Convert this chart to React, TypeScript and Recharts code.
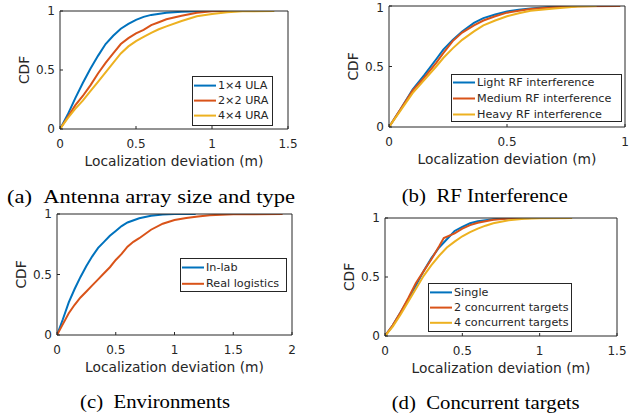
import React from 'react';
import { LineChart, Line, XAxis, YAxis, Legend, Label } from 'recharts';

const BLUE = '#0072BD';
const ORANGE = '#D95319';
const YELLOW = '#EDB120';
const AXIS = '#262626';
const SANS = '"DejaVu Sans", sans-serif';
const SERIF = '"Liberation Serif", serif';

// ---------- (a) Antenna array size and type ----------
const A_TICKS = [0, 0.5, 1, 1.5];
const A_ULA_X = [0, 0.05, 0.1, 0.15, 0.2, 0.25, 0.3, 0.35, 0.4, 0.45, 0.5, 0.55, 0.6, 0.7, 0.8, 0.9, 0.96];
const A_ULA_Y = [0, 0.12, 0.26, 0.39, 0.51, 0.62, 0.72, 0.79, 0.85, 0.89, 0.925, 0.95, 0.967, 0.985, 0.994, 0.998, 1];
const A_URA2_X = [0, 0.05, 0.1, 0.15, 0.2, 0.25, 0.3, 0.35, 0.4, 0.45, 0.5, 0.55, 0.6, 0.65, 0.7, 0.8, 0.9, 1.0, 1.1, 1.3];
const A_URA2_Y = [0, 0.1, 0.2, 0.28, 0.37, 0.47, 0.56, 0.64, 0.72, 0.77, 0.81, 0.84, 0.88, 0.905, 0.93, 0.96, 0.985, 0.997, 1, 1];
const A_URA4_X = [0, 0.05, 0.1, 0.15, 0.2, 0.25, 0.3, 0.35, 0.4, 0.45, 0.5, 0.55, 0.6, 0.65, 0.7, 0.8, 0.9, 1.0, 1.1, 1.2, 1.41];
const A_URA4_Y = [0, 0.09, 0.17, 0.24, 0.32, 0.4, 0.48, 0.56, 0.64, 0.7, 0.745, 0.78, 0.815, 0.845, 0.87, 0.915, 0.955, 0.975, 0.99, 0.998, 1];

// ---------- (b) RF Interference ----------
const B_TICKS = [0, 0.5, 1];
const B_LIGHT_X = [0, 0.05, 0.1, 0.15, 0.2, 0.23, 0.27, 0.31, 0.36, 0.4, 0.45, 0.5, 0.55, 0.6, 0.7, 0.78];
const B_LIGHT_Y = [0, 0.15, 0.31, 0.43, 0.56, 0.64, 0.72, 0.79, 0.86, 0.9, 0.93, 0.955, 0.97, 0.98, 0.995, 1];
const B_MED_X = [0, 0.05, 0.1, 0.15, 0.2, 0.23, 0.27, 0.31, 0.36, 0.4, 0.45, 0.5, 0.55, 0.6, 0.7, 0.8, 0.98];
const B_MED_Y = [0, 0.15, 0.3, 0.41, 0.53, 0.61, 0.71, 0.78, 0.84, 0.88, 0.915, 0.945, 0.96, 0.975, 0.99, 0.998, 1];
const B_HEAVY_X = [0, 0.05, 0.1, 0.15, 0.2, 0.23, 0.27, 0.31, 0.36, 0.4, 0.45, 0.5, 0.55, 0.6, 0.7, 0.8, 0.88];
const B_HEAVY_Y = [0, 0.14, 0.28, 0.39, 0.5, 0.57, 0.65, 0.72, 0.79, 0.84, 0.88, 0.915, 0.94, 0.96, 0.98, 0.995, 1];

// ---------- (c) Environments ----------
const C_TICKS = [0, 0.5, 1, 1.5, 2];
const C_LAB_X = [0, 0.05, 0.1, 0.15, 0.2, 0.25, 0.3, 0.35, 0.4, 0.45, 0.5, 0.55, 0.6, 0.7, 0.8, 0.9, 1.0, 1.18];
const C_LAB_Y = [0, 0.13, 0.27, 0.38, 0.48, 0.57, 0.65, 0.72, 0.77, 0.82, 0.86, 0.9, 0.93, 0.965, 0.985, 0.995, 0.999, 1];
const C_REAL_X = [0, 0.05, 0.1, 0.15, 0.2, 0.25, 0.3, 0.35, 0.4, 0.45, 0.5, 0.55, 0.6, 0.65, 0.7, 0.8, 0.9, 1.0, 1.1, 1.2, 1.3, 1.5, 1.92];
const C_REAL_Y = [0, 0.09, 0.18, 0.25, 0.31, 0.36, 0.41, 0.46, 0.51, 0.56, 0.62, 0.67, 0.73, 0.77, 0.8, 0.87, 0.92, 0.95, 0.967, 0.98, 0.99, 0.998, 1];

// ---------- (d) Concurrent targets ----------
const D_TICKS = [0, 0.5, 1, 1.5];
const D_SINGLE_X = [0, 0.05, 0.1, 0.15, 0.2, 0.25, 0.3, 0.35, 0.4, 0.45, 0.5, 0.55, 0.6, 0.7, 0.8, 0.95];
const D_SINGLE_Y = [0, 0.09, 0.2, 0.31, 0.43, 0.55, 0.66, 0.75, 0.82, 0.89, 0.925, 0.955, 0.972, 0.99, 0.997, 1];
const D_TWO_X = [0, 0.05, 0.1, 0.15, 0.2, 0.25, 0.3, 0.35, 0.38, 0.45, 0.5, 0.55, 0.6, 0.7, 0.8, 0.95];
const D_TWO_Y = [0, 0.09, 0.2, 0.32, 0.45, 0.55, 0.65, 0.76, 0.83, 0.87, 0.91, 0.94, 0.96, 0.985, 0.995, 1];
const D_FOUR_X = [0, 0.05, 0.1, 0.15, 0.2, 0.25, 0.3, 0.35, 0.4, 0.45, 0.5, 0.55, 0.6, 0.65, 0.7, 0.8, 0.9, 1.0, 1.21];
const D_FOUR_Y = [0, 0.08, 0.18, 0.29, 0.4, 0.51, 0.6, 0.68, 0.75, 0.8, 0.845, 0.88, 0.91, 0.935, 0.955, 0.98, 0.993, 0.998, 1];

const Y_TICKS = [0, 0.5, 1];

type Series = { name: string; color: string; x: number[]; y: number[] };
type Box = { l: number; t: number; r: number; b: number };
type LegendBox = { x: number; y: number; w: number; h: number; row0: number; gap: number };

const toData = (xs: number[], ys: number[]) => xs.map((x, i) => ({ x, y: ys[i] }));

type PanelProps = {
  left: number;
  top: number;
  width: number;
  height: number;
  plot: Box;
  xMax: number;
  xTicks: number[];
  series: Series[];
  legend: LegendBox;
};

function Panel(p: PanelProps) {
  const { left, top, width, height, plot, xMax, xTicks, series, legend } = p;
  const pl = plot.l - left;
  const pr = plot.r - left;
  const pt = plot.t - top;
  const pb = plot.b - top;
  const margin = { top: pt - 1, left: pl - 40, right: width - pr - 1, bottom: height - pb - 30 };
  const tickStyle = { fill: AXIS, fontSize: 12, fontFamily: SANS };
  return (
    <div style={{ position: 'absolute', left, top, width, height }}>
      <LineChart width={width} height={height} margin={margin}>
        <XAxis
          type="number"
          dataKey="x"
          domain={[0, xMax]}
          ticks={xTicks}
          allowDataOverflow
          height={30}
          tickSize={-3}
          tickMargin={13.6}
          stroke={AXIS}
          tick={tickStyle}
        >
          <Label
            value="Localization deviation (m)"
            content={() => (
              <text x={(pl + pr) / 2} y={pb + 36.5} textAnchor="middle" fontFamily={SANS} fontSize={13.8} fill={AXIS}>
                Localization deviation (m)
              </text>
            )}
          />
        </XAxis>
        <XAxis
          xAxisId="top"
          orientation="top"
          type="number"
          domain={[0, xMax]}
          ticks={xTicks}
          allowDataOverflow
          height={1}
          tickSize={-3}
          stroke={AXIS}
          tick={false}
        />
        <YAxis
          type="number"
          domain={[0, 1]}
          ticks={Y_TICKS}
          allowDataOverflow
          width={40}
          tickSize={-3}
          tickMargin={8}
          stroke={AXIS}
          tick={tickStyle}
        >
          <Label
            value="CDF"
            content={() => (
              <text
                transform={`translate(${pl - 31}, ${(pt + pb) / 2}) rotate(-90)`}
                textAnchor="middle"
                fontFamily={SANS}
                fontSize={13.8}
                fill={AXIS}
              >
                CDF
              </text>
            )}
          />
        </YAxis>
        <YAxis
          yAxisId="right"
          orientation="right"
          type="number"
          domain={[0, 1]}
          ticks={Y_TICKS}
          allowDataOverflow
          width={1}
          tickSize={-3}
          stroke={AXIS}
          tick={false}
        />
        {series.map((s) => (
          <Line
            key={s.name}
            name={s.name}
            data={toData(s.x, s.y)}
            dataKey="y"
            type="linear"
            stroke={s.color}
            strokeWidth={2}
            dot={false}
            activeDot={false}
            isAnimationActive={false}
          />
        ))}
        <Legend
          layout="horizontal"
          verticalAlign="middle"
          align="center"
          wrapperStyle={{
            position: 'absolute',
            left: legend.x - left,
            top: legend.y - top,
            width: legend.w,
            height: legend.h,
            margin: 0,
            padding: 0,
          }}
          content={() => (
            <svg width={legend.w} height={legend.h} style={{ display: 'block' }}>
              <rect x={0.5} y={0.5} width={legend.w - 1} height={legend.h - 1} fill="#fff" stroke={AXIS} strokeWidth={1} />
              {series.map((s, i) => {
                const yy = legend.row0 + i * legend.gap;
                return (
                  <g key={s.name}>
                    <line x1={2} x2={24} y1={yy} y2={yy} stroke={s.color} strokeWidth={2} />
                    <text x={26} y={yy} dominantBaseline="central" fontFamily={SANS} fontSize={11.2} fill={AXIS}>
                      {s.name}
                    </text>
                  </g>
                );
              })}
            </svg>
          )}
        />
      </LineChart>
    </div>
  );
}

const CAPTIONS = [
  { text: '(a)\u00A0\u00A0Antenna array size and type', x: 7, y: 202.5, w: 288 },
  { text: '(b)\u00A0\u00A0RF Interference', x: 401.7, y: 202, w: 166 },
  { text: '(c)\u00A0\u00A0Environments', x: 80, y: 408, w: 150 },
  { text: '(d)\u00A0\u00A0Concurrent targets', x: 391.7, y: 409, w: 188 },
];

export default function App() {
  return (
    <div style={{ position: 'absolute', left: 0, top: 0, width: 639, height: 416, background: '#fff', overflow: 'hidden' }}>
      <Panel
        left={0}
        top={0}
        width={320}
        height={185}
        plot={{ l: 60, t: 11, r: 288, b: 129 }}
        xMax={1.5}
        xTicks={A_TICKS}
        series={[
          { name: '1×4 ULA', color: BLUE, x: A_ULA_X, y: A_ULA_Y },
          { name: '2×2 URA', color: ORANGE, x: A_URA2_X, y: A_URA2_Y },
          { name: '4×4 URA', color: YELLOW, x: A_URA4_X, y: A_URA4_Y },
        ]}
        legend={{ x: 192, y: 76, w: 81, h: 50, row0: 9.6, gap: 15 }}
      />
      <Panel
        left={320}
        top={0}
        width={319}
        height={185}
        plot={{ l: 389, t: 6, r: 625, b: 127 }}
        xMax={1}
        xTicks={B_TICKS}
        series={[
          { name: 'Light RF interference', color: BLUE, x: B_LIGHT_X, y: B_LIGHT_Y },
          { name: 'Medium RF interference', color: ORANGE, x: B_MED_X, y: B_MED_Y },
          { name: 'Heavy RF interference', color: YELLOW, x: B_HEAVY_X, y: B_HEAVY_Y },
        ]}
        legend={{ x: 451, y: 74, w: 171, h: 48, row0: 8.5, gap: 16 }}
      />
      <Panel
        left={0}
        top={205}
        width={320}
        height={185}
        plot={{ l: 57, t: 214, r: 292, b: 335 }}
        xMax={2}
        xTicks={C_TICKS}
        series={[
          { name: 'In-lab', color: BLUE, x: C_LAB_X, y: C_LAB_Y },
          { name: 'Real logistics', color: ORANGE, x: C_REAL_X, y: C_REAL_Y },
        ]}
        legend={{ x: 180, y: 258, w: 107, h: 34, row0: 9.5, gap: 16.3 }}
      />
      <Panel
        left={320}
        top={205}
        width={319}
        height={185}
        plot={{ l: 385, t: 218, r: 617, b: 336 }}
        xMax={1.5}
        xTicks={D_TICKS}
        series={[
          { name: 'Single', color: BLUE, x: D_SINGLE_X, y: D_SINGLE_Y },
          { name: '2 concurrent targets', color: ORANGE, x: D_TWO_X, y: D_TWO_Y },
          { name: '4 concurrent targets', color: YELLOW, x: D_FOUR_X, y: D_FOUR_Y },
        ]}
        legend={{ x: 428, y: 283, w: 144, h: 49, row0: 9.4, gap: 15.2 }}
      />
      <svg width={639} height={416} style={{ position: 'absolute', left: 0, top: 0, pointerEvents: 'none' }}>
        {CAPTIONS.map((c) => (
          <text
            key={c.text}
            x={c.x}
            y={c.y}
            textLength={c.w}
            lengthAdjust="spacingAndGlyphs"
            fontFamily={SERIF}
            fontSize={19}
            fill="#000"
          >
            {c.text}
          </text>
        ))}
      </svg>
    </div>
  );
}
